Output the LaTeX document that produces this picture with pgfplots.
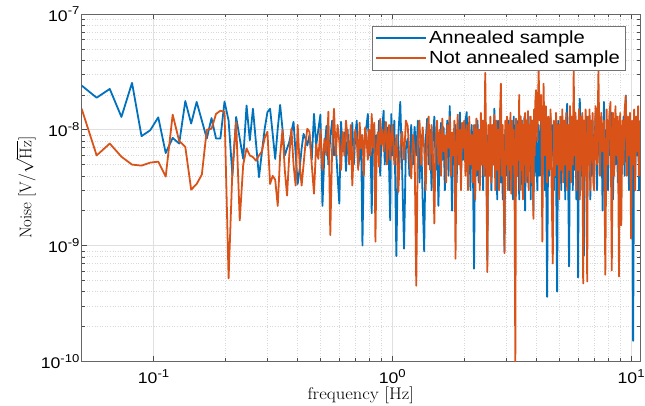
\documentclass[border=0pt]{standalone}
\usepackage{pgfplots}
\pgfplotsset{compat=1.18}
\usepackage{pgfplotstable}
\usepackage{fontspec}
\newfontfamily\tickfont{Liberation Sans}[FakeStretch=1.15]
\definecolor{mblue}{RGB}{0,114,189}
\definecolor{morange}{RGB}{217,83,25}
\newcommand{\tl}[1]{10\raisebox{0.42em}{\fontsize{11.5}{12}\selectfont #1}}

\pgfplotstableread{
f a b
0.0500 2.41e-8 1.52e-8
0.0578 1.89e-8 6.0e-9
0.0656 2.25e-8 7.6e-9
0.0734 1.29e-8 5.85e-9
0.0813 2.54e-8 5.0e-9
0.0891 8.8e-9 4.9e-9
0.0969 9.9e-9 5.2e-9
0.1047 1.28e-8 5.3e-9
0.1125 6.3e-9 3.94e-9
0.1203 8.5e-9 1.35e-8
0.1281 7.6e-9 8.0e-9
0.1359 1.77e-8 7.1e-9
0.1438 1.13e-8 3.04e-9
0.1516 1.74e-8 3.4e-9
0.1594 1.2e-8 4.1e-9
0.1672 8.4e-9 1.0e-8
0.1750 1.26e-8 1.02e-8
0.1828 8.4e-9 1.37e-8
0.1906 8.4e-9 1.46e-8
0.1984 1.75e-8 1.43e-8
0.2063 1.2e-8 5.2e-10
0.2141 4.0e-9 4.6e-9
0.2219 1.29e-8 1.17e-8
0.2297 8.4e-9 1.65e-9
0.2375 5.6e-9 5.0e-9
0.2453 1.62e-8 6.9e-9
0.2531 8.1e-9 6.0e-9
0.2609 1.52e-8 5.8e-9
0.2688 7.6e-9 5.4e-9
0.2766 3.9e-9 6.0e-9
0.2844 6.4e-9 6.5e-9
0.2922 1.02e-8 8.5e-9
0.3000 1.42e-8 9.6e-9
0.3078 1.52e-8 3.4e-9
0.3156 9.2e-9 4.0e-9
0.3234 5.6e-9 3.7e-9
0.3313 1.02e-8 2.2e-9
0.3391 1.64e-8 6.0e-9
0.3469 1.02e-8 1.0e-8
0.3547 6.0e-9 4.5e-9
0.3625 6.9e-9 2.7e-9
0.3703 7.8e-9 6.0e-9
0.3781 9.6e-9 1.02e-8
0.3859 1.17e-8 5.0e-9
0.3938 6.2e-9 3.3e-9
0.4016 3.4e-9 1.1e-8
0.4094 4.6e-9 5.0e-9
0.4172 6.9e-9 3.3e-9
0.4250 9.2e-9 5.0e-9
0.4328 8.4e-9 7.5e-9
0.4406 7.3e-9 1.02e-8
0.45 9.0e-9 9.6e-9
0.46 5.5e-9 5.0e-9
0.47 1.37e-8 2.8e-9
0.48 7.3e-9 7.5e-9
0.49 1.0e-8 5.6e-9
0.50 1.35e-8 1.0e-8
0.51 2.2e-9 4.5e-9
0.52 6.5e-9 8.4e-9
0.53 1.08e-8 6.0e-9
0.54 5.0e-9 1.43e-8
0.55 8.5e-9 1.23e-9
0.56 1.2e-8 7.0e-9
0.57 6.0e-9 1.52e-8
0.58 7.3e-9 6.0e-9
0.59 4.0e-9 1.1e-8
0.60 2.3e-9 7.9e-9
0.61 1.17e-8 4.5e-9
0.62 6.5e-9 9.6e-9
0.63 9.5e-9 6.0e-9
0.64 4.4e-9 1.2e-8
0.65 1.0e-8 8.4e-9
0.66 5.5e-9 5.0e-9
0.67 6.9e-9 1.1e-8
0.68 1.15e-8 3.3e-9
0.69 5.0e-9 7.0e-9
0.70 8.9e-9 1.0e-8
0.71 1.2e-8 8.4e-9
0.72 4.8e-9 4.5e-9
0.73 6.0e-9 1.15e-8
0.74 9.0e-9 6.9e-9
0.75 1.0e-9 9.0e-9
0.76 5.5e-9 4.0e-9
0.77 9.5e-9 1.05e-8
0.78 1.08e-8 8.4e-9
0.79 1.37e-8 5.5e-9
0.80 6.0e-9 1.0e-8
0.81 9.0e-9 6.0e-9
0.82 1.9e-9 1.37e-8
0.83 7.0e-9 7.0e-9
0.84 1.1e-8 1.15e-8
0.85 4.5e-9 1.08e-9
0.86 9.0e-9 6.5e-9
0.87 6.5e-9 9.5e-9
0.88 1.2e-8 4.8e-9
0.89 4.0e-9 1.24e-8
0.90 8.0e-9 7.5e-9
0.91 1.1e-8 1.0e-8
0.92 1.46e-8 6.5e-9
0.93 5.0e-9 9.0e-9
0.94 9.5e-9 1.17e-8
0.95 6.0e-9 5.0e-9
0.96 1.05e-8 8.5e-9
0.97 4.5e-9 1.1e-8
0.98 1.65e-9 5.5e-9
0.99 1.37e-8 8.4e-9
1.00 6.0e-9 1.1e-8
1.02 1.2e-8 5.0e-9
1.04 8.1e-10 9.0e-9
1.06 9.0e-9 2.9e-9
1.08 1.74e-8 7.0e-9
1.10 4.4e-9 9.6e-9
1.12 9.4e-10 5.5e-9
1.14 7.0e-9 1.2e-8
1.16 8.4e-9 1.08e-8
1.18 4.0e-9 6.0e-9
1.20 1.1e-8 3.8e-9
1.22 5.0e-9 9.0e-9
1.24 1.06e-8 6.5e-9
1.26 6.0e-9 4.5e-10
1.28 1.2e-8 8.0e-9
1.30 3.5e-9 1.2e-8
1.32 9.0e-9 5.0e-9
1.34 2.5e-9 1.05e-8
1.36 8.9e-10 7.0e-9
1.38 8.0e-9 3.0e-9
1.40 1.25e-8 9.5e-9
1.42 5.0e-9 1.3e-8
1.44 1.0e-8 4.5e-9
1.46 3.0e-9 1.1e-8
1.48 8.5e-9 6.0e-9
1.50 1.3e-8 1.55e-9
1.52 4.5e-9 8.5e-9
1.54 9.5e-9 1.2e-8
1.56 2.2e-9 5.0e-9
1.58 7.0e-9 1.0e-8
1.60 1.15e-8 4.0e-9
1.62 5.5e-9 1.25e-8
1.64 1.05e-8 6.5e-9
1.66 3.0e-9 9.0e-9
1.68 8.0e-9 3.5e-9
1.70 1.2e-8 1.1e-8
1.72 4.0e-9 7.0e-9
1.74 1.6e-8 1.3e-8
1.76 6.0e-9 4.0e-9
1.78 2.0e-9 9.5e-9
1.80 9.0e-9 6.0e-9
1.82 5.0e-9 1.2e-8
1.84 1.1e-8 7.7e-10
1.86 3.5e-9 8.0e-9
1.88 8.0e-9 1.35e-8
1.90 6.0e-9 5.0e-9
1.92 1.41e-8 1.0e-8
1.94 4.0e-9 3.0e-9
1.96 9.5e-9 1.15e-8
1.98 5.5e-9 7.0e-9
2.000 6.0e-9 1.2e-8
2.025 1.2e-8 4.0e-9
2.050 1.42e-8 1.1e-8
2.075 4.5e-9 3.0e-9
2.100 1.0e-8 1.3e-8
2.125 3.0e-9 5.0e-9
2.150 1.1e-8 9.0e-9
2.175 5.0e-9 3.5e-9
2.200 6.3e-10 1.1e-8
2.225 1.1e-8 2.5e-9
2.250 4.0e-9 1.25e-8
2.275 1.2e-8 4.5e-9
2.300 3.5e-9 1.0e-8
2.325 1.0e-8 3.0e-9
2.350 5.0e-9 1.4e-8
2.375 1.2e-8 5.0e-9
2.400 3.0e-9 1.2e-8
2.425 9.0e-9 4.0e-9
2.450 4.0e-9 3.1e-8
2.475 1.0e-8 6.0e-9
2.500 7.5e-10 5.9e-10
2.525 9.0e-9 1.1e-8
2.550 4.5e-9 4.0e-9
2.575 1.1e-8 1.3e-8
2.600 3.0e-9 3.5e-9
2.625 9.5e-9 1.1e-8
2.650 5.0e-9 5.0e-9
2.675 1.52e-8 1.35e-8
2.700 4.0e-9 3.0e-9
2.725 1.1e-8 1.2e-8
2.750 2.5e-9 4.5e-9
2.775 1.2e-8 1.0e-8
2.800 5.0e-9 3.0e-9
2.825 1.0e-8 1.4e-8
2.850 3.5e-9 2.5e-8
2.875 1.1e-8 4.0e-9
2.900 2.5e-9 1.1e-8
2.925 9.0e-9 3.5e-9
2.950 8.9e-10 8.6e-10
2.975 1.0e-8 1.2e-8
3.000 4.0e-9 5.0e-9
3.025 9.0e-9 1.3e-8
3.050 5.0e-9 3.0e-9
3.075 1.2e-8 1.1e-8
3.100 3.0e-9 4.5e-9
3.125 1.0e-8 1.4e-8
3.150 4.5e-9 2.8e-9
3.175 1.1e-8 1.2e-8
3.200 2.5e-9 5.0e-9
3.225 1.3e-8 1.0e-8
3.250 5.0e-9 3.5e-9
3.275 9.0e-9 9.0e-11
3.300 3.5e-9 1.25e-8
3.325 1.2e-8 4.0e-9
3.350 4.0e-9 1.1e-8
3.375 1.0e-8 5.5e-9
3.400 2.5e-9 2.0e-8
3.425 1.1e-8 3.0e-9
3.450 5.0e-9 1.3e-8
3.475 1.15e-8 4.5e-9
3.500 3.0e-9 1.2e-8
3.525 1.0e-8 2.5e-9
3.550 4.5e-9 1.1e-8
3.575 1.3e-8 5.0e-9
3.600 2.0e-9 1.4e-8
3.625 9.0e-9 3.5e-9
3.650 5.0e-9 1.2e-8
3.675 1.2e-8 4.0e-9
3.700 3.5e-9 1.45e-8
3.725 1.3e-8 3.0e-9
3.750 4.5e-9 1.1e-8
3.775 1.0e-8 5.0e-9
3.800 2.5e-9 1.3e-8
3.825 1.1e-8 3.5e-9
3.850 5.0e-9 1.2e-8
3.875 1.2e-8 4.5e-9
3.900 2.0e-9 1.7e-9
3.925 8.0e-9 1.5e-8
3.950 4.0e-9 6.0e-9
3.975 1.0e-8 1.8e-8
4.00 8.0e-9 2.2e-8
4.05 3.0e-9 8.0e-9
4.10 1.1e-8 3.2e-8
4.15 4.0e-9 1.2e-8
4.20 1.2e-8 2.0e-8
4.25 5.0e-9 1.08e-9
4.30 1.0e-8 2.5e-8
4.35 3.0e-9 6.0e-9
4.40 9.0e-9 1.6e-8
4.45 3.6e-10 3.5e-9
4.50 1.1e-8 1.3e-8
4.55 4.0e-9 4.5e-9
4.60 1.3e-8 1.5e-8
4.65 6.0e-9 3.0e-9
4.70 1.1e-8 7.0e-10
4.75 3.0e-9 1.2e-8
4.80 1.0e-8 4.0e-9
4.85 5.0e-9 1.4e-8
4.90 4.0e-10 5.0e-9
4.95 1.2e-8 1.1e-8
5.00 4.0e-9 2.5e-9
5.05 1.0e-8 1.3e-8
5.10 3.0e-9 4.5e-9
5.15 1.3e-8 1.5e-8
5.20 5.0e-9 3.5e-9
5.25 1.1e-8 1.2e-8
5.30 2.5e-9 5.0e-9
5.35 1.2e-8 1.4e-8
5.40 1.68e-8 3.0e-9
5.45 4.0e-9 1.1e-8
5.50 6.6e-10 4.5e-9
5.55 1.0e-8 1.6e-8
5.60 5.0e-9 3.5e-9
5.65 1.2e-8 1.3e-8
5.70 3.0e-9 5.0e-9
5.75 1.1e-8 3.2e-8
5.80 4.5e-9 6.0e-9
5.85 1.3e-8 1.4e-8
5.90 2.5e-9 3.0e-9
5.95 1.0e-8 1.2e-8
6.00 5.3e-10 4.5e-9
6.05 1.2e-8 1.5e-8
6.10 1.85e-8 2.5e-9
6.15 4.0e-9 1.3e-8
6.20 1.1e-8 5.0e-9
6.25 3.0e-9 1.4e-8
6.30 1.2e-8 4.7e-10
6.35 8.2e-10 1.2e-8
6.40 1.0e-8 4.0e-9
6.45 4.5e-9 1.5e-8
6.50 1.3e-8 3.5e-9
6.55 3.0e-9 4.9e-10
6.60 1.1e-8 1.3e-8
6.65 5.0e-9 5.0e-9
6.70 1.3e-8 1.5e-8
6.75 2.5e-9 3.0e-9
6.80 1.0e-8 1.2e-8
6.85 4.0e-9 5.5e-9
6.90 1.2e-8 1.4e-8
6.95 5.0e-9 3.5e-9
7.0 5.5e-9 3.0e-9
7.1 1.4e-8 1.6e-8
7.2 3.0e-9 5.0e-9
7.3 1.1e-8 3.2e-8
7.4 6.0e-9 4.0e-9
7.5 1.3e-8 1.4e-8
7.6 2.0e-9 6.5e-9
7.7 1.74e-8 1.2e-8
7.8 5.0e-9 5.6e-10
7.9 1.0e-8 1.5e-8
8.0 3.0e-9 5.0e-9
8.1 1.2e-8 1.3e-8
8.2 6.0e-9 1.74e-8
8.3 1.4e-8 6.1e-10
8.4 2.5e-9 1.4e-8
8.5 1.0e-8 4.0e-9
8.6 5.0e-9 1.6e-8
8.7 1.3e-8 6.0e-9
8.8 3.5e-9 1.3e-8
8.9 1.1e-8 5.4e-10
9.0 1.5e-9 1.4e-8
9.1 9.0e-9 1.5e-9
9.2 5.0e-9 1.2e-8
9.3 1.3e-8 5.0e-9
9.4 4.0e-9 1.5e-8
9.5 1.98e-8 1.96e-8
9.6 6.0e-9 4.0e-9
9.7 1.1e-8 1.3e-8
9.8 3.0e-9 6.0e-9
9.9 1.2e-8 1.4e-8
10.0 5.0e-9 1.15e-9
10.1 9.0e-9 1.2e-8
10.2 1.5e-10 5.0e-9
10.3 1.0e-8 1.5e-8
10.4 4.0e-9 3.0e-9
10.5 1.3e-8 1.3e-8
10.6 6.0e-9 6.5e-9
10.7 1.1e-8 1.6e-8
10.8 3.0e-9 4.0e-9
10.9 1.2e-8 1.2e-8
}\datatab

\begin{document}
\begin{tikzpicture}
\begin{axis}[
  name=ax,
  scale only axis, width=561bp, height=349bp,
  xmode=log, ymode=log,
  xmin=0.05, xmax=10.9, ymin=1e-10, ymax=1e-7,
  xtick={0.1,1,10}, xticklabels={\tl{-1},\tl{0},\tl{1}},
  ytick={1e-10,1e-9,1e-8,1e-7}, yticklabels={\tl{-10},\tl{-9},\tl{-8},\tl{-7}},
  tick label style={font=\tickfont\fontsize{15.5}{17}\selectfont},
  xticklabel style={inner sep=0pt, yshift=-8bp},
  yticklabel style={inner sep=0pt, xshift=-2bp},
  grid=both,
  major grid style={draw=black!12, line width=0.6pt},
  minor grid style={draw=black!15, line width=0.6pt, dotted},
  tick align=inside,
  major tick length=5bp, minor tick length=3bp,
  tick style={black!70, line width=0.5pt},
  axis line style={black!60, line width=0.7pt},
  xlabel={\scalebox{1.1}[1]{frequency [Hz]}},
  ylabel={Noise $[\mathrm{V}/\sqrt{\mathrm{Hz}}]$},
  label style={font=\fontsize{17}{20}\selectfont},
  xlabel style={at={(axis description cs:0.5,-0.099)}, anchor=center, inner sep=0pt},
  ylabel style={at={(axis description cs:-0.1,0.5)}, anchor=center, inner sep=0pt},
  legend style={at={(rel axis cs:0.973,0.966)}, anchor=north east, draw=black!55, fill=white,
    font=\tickfont\fontsize{17.7}{21}\selectfont, inner xsep=3bp, inner ysep=3bp, row sep=2bp},
  legend cell align=left,
  legend image code/.code={\draw[#1] (0bp,0bp) -- (50bp,0bp);},
]
\addplot[mblue, line width=1.8pt, line join=round] table[x=f,y=a]{\datatab};
\addlegendentry{Annealed sample}
\addplot[morange, line width=1.8pt, line join=round] table[x=f,y=b]{\datatab};
\addlegendentry{Not annealed sample}
\end{axis}
\pgfresetboundingbox
\path ([shift={(-82bp,-44bp)}]ax.south west) rectangle ([shift={(5bp,14bp)}]ax.north east);
\end{tikzpicture}
\end{document}
